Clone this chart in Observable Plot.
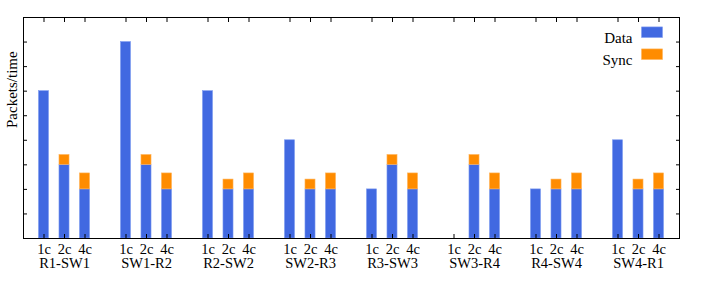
<!DOCTYPE html>
<html>
<head>
<meta charset="utf-8">
<script src="https://cdn.jsdelivr.net/npm/d3@7"></script>
<script src="https://cdn.jsdelivr.net/npm/@observablehq/plot@0.6"></script>
<style>
  html, body { margin: 0; padding: 0; background: #fff; }
  #chart { width: 706px; height: 283px; }
</style>
</head>
<body>
<div id="chart"></div>
<script>
const groups = ["R1-SW1", "SW1-R2", "R2-SW2", "SW2-R3", "R3-SW3", "SW3-R4", "R4-SW4", "SW4-R1"];
const cores = ["1c", "2c", "4c"];
const dataValues = [
  [6, 3, 2],
  [8, 3, 2],
  [6, 2, 2],
  [4, 2, 2],
  [2, 3, 2],
  [0, 3, 2],
  [2, 2, 2],
  [4, 2, 2]
];
const syncValues = [
  [0, 0.4, 0.65],
  [0, 0.4, 0.65],
  [0, 0.4, 0.65],
  [0, 0.4, 0.65],
  [0, 0.4, 0.65],
  [0, 0.4, 0.65],
  [0, 0.4, 0.65],
  [0, 0.4, 0.65]
];
const yTicks = [0, 1, 2, 3, 4, 5, 6, 7, 8, 9];
const seriesNames = ["Data", "Sync"];
const seriesColors = ["#4169E1", "#FF8C00"];
const seriesEdges = ["#7f9cf0", "#ffb45a"];

const slotsPerGroup = cores.length + 1;
const half = 0.245;
const rows = [];
groups.forEach((g, gi) => {
  cores.forEach((c, ci) => {
    const pos = gi * slotsPerGroup + ci + 1;
    rows.push({group: g, core: c, pos, data: dataValues[gi][ci], sync: syncValues[gi][ci]});
  });
});
const groupRows = groups.map((g, gi) => ({group: g, pos: gi * slotsPerGroup + 2}));
const positions = rows.map(d => d.pos);
const xMax = groups.length * slotsPerGroup;

const rectSymbol = {draw(ctx) { ctx.rect(-10.5, -5.3, 21, 10.6); }};
const font = "'Liberation Serif', 'DejaVu Serif', serif";

const chart = Plot.plot({
  width: 706,
  height: 283,
  marginLeft: 23,
  marginRight: 27,
  marginTop: 17,
  marginBottom: 45,
  style: {fontFamily: font, fontSize: "14.5px", color: "#000", background: "#fff"},
  x: {type: "linear", domain: [0, xMax]},
  y: {domain: [0, 9]},
  marks: [
    Plot.rect(rows.filter(d => d.data > 0), {x1: d => d.pos - half, x2: d => d.pos + half, y1: 0, y2: "data", fill: seriesColors[0], stroke: seriesEdges[0], strokeWidth: 0.6}),
    Plot.rect(rows.filter(d => d.sync > 0), {x1: d => d.pos - half, x2: d => d.pos + half, y1: "data", y2: d => d.data + d.sync, fill: seriesColors[1], stroke: seriesEdges[1], strokeWidth: 0.6}),
    Plot.axisX({anchor: "top", ticks: positions, text: null, label: null, tickSize: -4, stroke: "#000"}),
    Plot.axisX({anchor: "bottom", ticks: positions, text: null, label: null, tickSize: -4, stroke: "#000"}),
    Plot.axisY({anchor: "left", ticks: yTicks, text: null, label: null, tickSize: -4, stroke: "#000"}),
    Plot.axisY({anchor: "right", ticks: yTicks, text: null, label: null, tickSize: -4, stroke: "#000"}),
    Plot.frame({stroke: "#000", strokeWidth: 1}),
    Plot.text(rows, {x: "pos", text: "core", frameAnchor: "bottom", dy: 15.5, fill: "#000", fontSize: 14.5}),
    Plot.text(groupRows, {x: "pos", text: "group", frameAnchor: "bottom", dy: 29.5, fill: "#000", fontSize: 14.5}),
    Plot.text(["Packets/time"], {text: d => d, frameAnchor: "left", rotate: -90, dx: -11, fill: "#000", fontSize: 15}),
    Plot.text([seriesNames[0]], {text: d => d, frameAnchor: "top-right", dx: -47, dy: 14.7, textAnchor: "end", fill: "#000", fontSize: 15}),
    Plot.text([seriesNames[1]], {text: d => d, frameAnchor: "top-right", dx: -47, dy: 36.7, textAnchor: "end", fill: "#000", fontSize: 15}),
    Plot.dot([seriesNames[0]], {frameAnchor: "top-right", dx: -27.5, dy: 14.7, symbol: rectSymbol, fill: seriesColors[0], stroke: seriesEdges[0], strokeWidth: 0.6, r: 5}),
    Plot.dot([seriesNames[1]], {frameAnchor: "top-right", dx: -27.5, dy: 36.7, symbol: rectSymbol, fill: seriesColors[1], stroke: seriesEdges[1], strokeWidth: 0.6, r: 5})
  ]
});
document.getElementById("chart").appendChild(chart);
</script>
</body>
</html>
